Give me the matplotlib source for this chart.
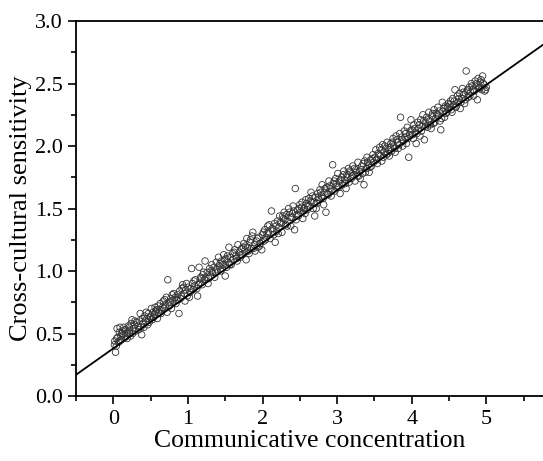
import matplotlib
matplotlib.use("Agg")
import matplotlib.pyplot as plt
from matplotlib.ticker import MultipleLocator

plt.rcParams['font.family'] = ['Liberation Serif', 'DejaVu Serif']

# communicative concentration (x) vs cross-cultural sensitivity (y)
cc = [0.02, 0.03, 0.04, 0.05, 0.06, 0.07, 0.08, 0.09, 0.10, 0.11, 0.12, 0.13, 0.14, 0.16, 0.17, 0.19,
      0.20, 0.22, 0.23, 0.24, 0.25, 0.27, 0.28, 0.30, 0.31, 0.33, 0.35, 0.36, 0.37, 0.38, 0.39, 0.40,
      0.42, 0.43, 0.45, 0.46, 0.47, 0.49,
      0.50, 0.51, 0.52, 0.53, 0.55, 0.56, 0.57, 0.59, 0.60, 0.61, 0.62, 0.63, 0.65, 0.66, 0.67, 0.68,
      0.70, 0.71, 0.72, 0.73, 0.74, 0.75, 0.77, 0.78, 0.80, 0.81, 0.83, 0.84, 0.86, 0.87, 0.88, 0.89,
      0.91, 0.92, 0.93, 0.95, 0.96, 0.97, 0.99,
      1.00, 1.02, 1.03, 1.05, 1.06, 1.07, 1.09, 1.10, 1.12, 1.13, 1.15, 1.16, 1.17, 1.19, 1.20, 1.22,
      1.23, 1.24, 1.26, 1.27, 1.29, 1.30, 1.32, 1.33, 1.35, 1.36, 1.38, 1.39, 1.41, 1.42, 1.44, 1.45,
      1.47, 1.48, 1.50,
      1.51, 1.52, 1.54, 1.55, 1.57, 1.58, 1.60, 1.61, 1.63, 1.64, 1.66, 1.67, 1.69, 1.70, 1.72, 1.73,
      1.75, 1.76, 1.78, 1.79, 1.80, 1.82, 1.83, 1.85, 1.86, 1.87, 1.89, 1.90, 1.92, 1.94, 1.95, 1.97, 1.99,
      2.00, 2.02, 2.03, 2.05, 2.07, 2.08, 2.10, 2.12, 2.13, 2.15, 2.16, 2.17, 2.19, 2.20, 2.22, 2.23,
      2.25, 2.26, 2.28, 2.29, 2.31, 2.32, 2.34, 2.35, 2.37, 2.38, 2.40, 2.41, 2.43, 2.44, 2.45, 2.47,
      2.48, 2.50,
      2.51, 2.53, 2.54, 2.56, 2.57, 2.59, 2.60, 2.62, 2.63, 2.65, 2.66, 2.68, 2.70, 2.71, 2.73, 2.74,
      2.76, 2.77, 2.79, 2.80, 2.82, 2.83, 2.85, 2.86, 2.88, 2.89, 2.91, 2.92, 2.94, 2.95, 2.97, 2.98,
      3.00, 3.01, 3.03, 3.04, 3.06, 3.07, 3.09, 3.10, 3.12, 3.13, 3.15, 3.16, 3.18, 3.19, 3.21, 3.22,
      3.24, 3.25, 3.27, 3.28, 3.30, 3.31, 3.33, 3.34, 3.36, 3.37, 3.39, 3.40, 3.42, 3.43, 3.45, 3.46,
      3.48, 3.49,
      3.51, 3.52, 3.54, 3.55, 3.57, 3.58, 3.60, 3.61, 3.63, 3.64, 3.66, 3.67, 3.69, 3.70, 3.72, 3.73,
      3.75, 3.76, 3.78, 3.79, 3.81, 3.82, 3.84, 3.85, 3.87, 3.88, 3.90, 3.91, 3.93, 3.94, 3.96, 3.97, 3.99,
      4.00, 4.02, 4.03, 4.05, 4.06, 4.08, 4.09, 4.11, 4.12, 4.14, 4.15, 4.17, 4.18, 4.20, 4.21, 4.23,
      4.24, 4.26, 4.27, 4.29, 4.30, 4.32, 4.33, 4.35, 4.36, 4.38, 4.39, 4.41, 4.42, 4.44, 4.45, 4.47, 4.49,
      4.50, 4.52, 4.53, 4.55, 4.56, 4.58, 4.59, 4.61, 4.62, 4.64, 4.65, 4.67, 4.68, 4.70, 4.71, 4.73,
      4.74, 4.76, 4.77, 4.79, 4.80, 4.82, 4.83, 4.85, 4.86, 4.88, 4.89, 4.91, 4.92, 4.94, 4.95, 4.97,
      4.98, 5.00]

ccs = [0.44, 0.35, 0.40, 0.54, 0.47, 0.43, 0.51, 0.55, 0.48, 0.45, 0.52, 0.49, 0.55, 0.47, 0.53, 0.50,
       0.56, 0.52, 0.48, 0.58, 0.61, 0.54, 0.57, 0.52, 0.59, 0.56, 0.60, 0.66, 0.55, 0.49, 0.62, 0.58,
       0.64, 0.60, 0.62, 0.57, 0.66, 0.63,
       0.64, 0.70, 0.61, 0.67, 0.65, 0.71, 0.68, 0.62, 0.72, 0.66, 0.69, 0.74, 0.68, 0.71, 0.76, 0.70,
       0.73, 0.79, 0.67, 0.93, 0.75, 0.72, 0.78, 0.70, 0.76, 0.82, 0.79, 0.74, 0.81, 0.77, 0.66, 0.84,
       0.80, 0.86, 0.89, 0.82, 0.76, 0.85, 0.80,
       0.87, 0.79, 0.83, 1.02, 0.90, 0.85, 0.88, 0.93, 0.86, 0.80, 1.03, 0.91, 0.95, 0.89, 0.97, 0.93,
       1.08, 0.95, 0.99, 0.90, 1.02, 0.96, 1.05, 0.99, 1.03, 0.95, 1.07, 1.01, 1.11, 1.04, 1.00, 1.08,
       1.05, 1.13, 0.96,
       1.10, 1.03, 1.07, 1.19, 1.11, 1.05, 1.14, 1.09, 1.17, 1.12, 1.08, 1.21, 1.15, 1.11, 1.18, 1.13,
       1.22, 1.16, 1.09, 1.26, 1.19, 1.14, 1.23, 1.18, 1.28, 1.31, 1.21, 1.16, 1.24, 1.19, 1.27, 1.22, 1.17,
       1.29, 1.24, 1.33, 1.27, 1.36, 1.31, 1.26, 1.48, 1.34, 1.29, 1.38, 1.23, 1.32, 1.40, 1.35, 1.44,
       1.38, 1.31, 1.42, 1.47, 1.37, 1.45, 1.40, 1.50, 1.43, 1.36, 1.46, 1.52, 1.33, 1.66, 1.41, 1.49,
       1.44, 1.53,
       1.47, 1.55, 1.42, 1.50, 1.46, 1.54, 1.49, 1.58, 1.52, 1.63, 1.55, 1.50, 1.44, 1.59, 1.54, 1.62,
       1.57, 1.65, 1.60, 1.69, 1.53, 1.63, 1.47, 1.67, 1.61, 1.72, 1.66, 1.60, 1.85, 1.70, 1.64, 1.74,
       1.68, 1.78, 1.72, 1.62, 1.75, 1.69, 1.80, 1.73, 1.66, 1.77, 1.82, 1.71, 1.79, 1.74, 1.84, 1.77,
       1.72, 1.81, 1.76, 1.87, 1.80, 1.74, 1.84, 1.78, 1.69, 1.88, 1.82, 1.91, 1.85, 1.79, 1.89, 1.84,
       1.93, 1.87,
       1.91, 1.97, 1.86, 1.94, 1.99, 1.92, 1.88, 2.01, 1.95, 2.00, 1.93, 2.03, 1.97, 1.92, 2.02, 1.96,
       2.06, 2.00, 1.95, 2.08, 2.03, 1.98, 2.10, 2.23, 2.05, 2.00, 2.12, 2.07, 2.02, 2.15, 1.91, 2.09, 2.21,
       2.13, 2.06, 2.17, 2.11, 2.02, 2.19, 2.14, 2.08, 2.21, 2.16, 2.25, 2.05, 2.19, 2.23, 2.15, 2.27,
       2.20, 2.14, 2.24, 2.18, 2.29, 2.22, 2.26, 2.31, 2.24, 2.20, 2.13, 2.35, 2.28, 2.23, 2.32, 2.27, 2.34,
       2.30, 2.36, 2.29, 2.38, 2.33, 2.45, 2.31, 2.40, 2.35, 2.42, 2.30, 2.38, 2.46, 2.41, 2.34, 2.60,
       2.44, 2.39, 2.47, 2.43, 2.50, 2.45, 2.40, 2.52, 2.48, 2.37, 2.54, 2.47, 2.51, 2.45, 2.56, 2.49,
       2.44, 2.47]

# second pass of points filling the band
cc_b = [0.015, 0.045, 0.085, 0.115, 0.155, 0.185, 0.215, 0.26, 0.29, 0.34, 0.41, 0.44, 0.48,
        0.54, 0.58, 0.64, 0.69, 0.76, 0.79, 0.85, 0.90, 0.94, 0.98,
        1.04, 1.08, 1.14, 1.18, 1.21, 1.28, 1.31, 1.37, 1.43, 1.46, 1.49,
        1.53, 1.56, 1.62, 1.65, 1.71, 1.74, 1.77, 1.81, 1.84, 1.88, 1.93, 1.96,
        2.01, 2.04, 2.06, 2.09, 2.14, 2.18, 2.21, 2.24, 2.27, 2.30, 2.33, 2.36, 2.39, 2.42, 2.46, 2.49,
        2.52, 2.55, 2.58, 2.61, 2.64, 2.67, 2.69, 2.72, 2.75, 2.78, 2.81, 2.84, 2.87, 2.90, 2.93, 2.96, 2.99,
        3.02, 3.05, 3.08, 3.11, 3.14, 3.17, 3.20, 3.23, 3.26, 3.29, 3.32, 3.35, 3.38, 3.41, 3.44, 3.47,
        3.53, 3.56, 3.59, 3.62, 3.65, 3.68, 3.71, 3.74, 3.77, 3.80, 3.83, 3.86, 3.89, 3.92, 3.95, 3.98,
        4.01, 4.04, 4.07, 4.10, 4.13, 4.16, 4.19, 4.22, 4.25, 4.28, 4.31, 4.34, 4.37, 4.40, 4.43, 4.46, 4.48,
        4.51, 4.54, 4.57, 4.60, 4.63, 4.66, 4.69, 4.72, 4.75, 4.78, 4.81, 4.84, 4.87, 4.90, 4.93, 4.96, 4.99]

ccs_b = [0.41, 0.46, 0.44, 0.50, 0.53, 0.46, 0.55, 0.50, 0.60, 0.53, 0.55, 0.67, 0.59,
         0.63, 0.69, 0.66, 0.77, 0.75, 0.81, 0.77, 0.78, 0.87, 0.90,
         0.86, 0.92, 0.89, 0.94, 0.99, 0.94, 1.00, 0.99, 1.06, 1.02, 1.09,
         1.12, 1.05, 1.15, 1.10, 1.13, 1.19, 1.20, 1.16, 1.25, 1.18, 1.26, 1.20,
         1.31, 1.25, 1.30, 1.37, 1.32, 1.36, 1.30, 1.39, 1.44, 1.41, 1.36, 1.47, 1.43, 1.48, 1.45, 1.50,
         1.51, 1.48, 1.57, 1.52, 1.56, 1.60, 1.55, 1.50, 1.59, 1.63, 1.58, 1.66, 1.62, 1.68, 1.64, 1.72, 1.70,
         1.67, 1.73, 1.77, 1.70, 1.75, 1.80, 1.76, 1.82, 1.79, 1.76, 1.81, 1.86, 1.79, 1.87, 1.83, 1.90,
         1.89, 1.93, 1.97, 1.91, 1.98, 1.94, 1.99, 2.03, 1.98, 2.05, 2.01, 2.07, 2.04, 2.10, 2.06, 2.12,
         2.09, 2.14, 2.10, 2.17, 2.12, 2.20, 2.16, 2.21, 2.17, 2.26, 2.19, 2.25, 2.28, 2.22, 2.30, 2.26, 2.31,
         2.33, 2.27, 2.36, 2.32, 2.38, 2.35, 2.43, 2.37, 2.45, 2.40, 2.48, 2.44, 2.50, 2.46, 2.53, 2.50, 2.45]

# fitted line end points (right end is at the cropped edge of the plot)
fit_x = [-0.5, 5.76]
fit_y = [0.17, 2.81]

fig = plt.figure(figsize=(5.43, 4.61), dpi=100)
ax = fig.add_axes([0.14, 0.141, 0.86, 0.8134])

ax.scatter(cc + cc_b, ccs + ccs_b, s=22, facecolors='none', edgecolors='#333333',
           linewidths=0.6, zorder=2)
ax.plot(fit_x, fit_y, color='black', lw=1.3, zorder=3)

ax.set_xlim(-0.5, 5.76)
ax.set_ylim(0, 3.0)
ax.xaxis.set_major_locator(MultipleLocator(1))
ax.xaxis.set_minor_locator(MultipleLocator(0.5))
ax.yaxis.set_major_locator(MultipleLocator(0.5))
ax.yaxis.set_minor_locator(MultipleLocator(0.25))
ax.yaxis.set_major_formatter(lambda v, p: f"{v:.1f}")

ax.tick_params(which='major', direction='out', length=6, width=1.2, labelsize=16)
ax.tick_params(which='minor', direction='out', length=3.5, width=1.2)
ax.tick_params(axis='x', which='major', pad=4)
ax.spines['right'].set_visible(False)
for s in ['left', 'bottom', 'top']:
    ax.spines[s].set_linewidth(1.3)

ax.set_xlabel('Communicative concentration', fontsize=18.5, labelpad=1)
ax.set_ylabel('Cross-cultural sensitivity', fontsize=19, labelpad=2)

fig.savefig('out.png', dpi=100)
